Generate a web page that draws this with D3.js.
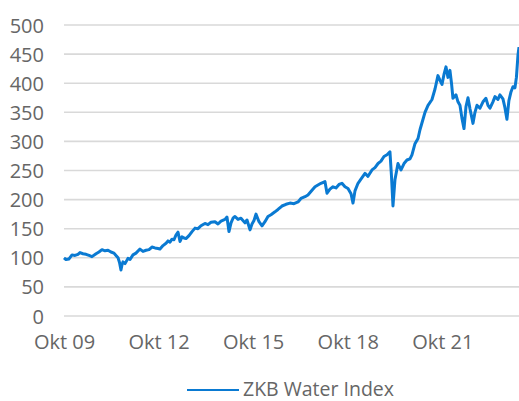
<!DOCTYPE html>
<html>
<head>
<meta charset="utf-8">
<script src="https://cdn.jsdelivr.net/npm/d3@7"></script>
<style>
  body { margin: 0; background: #fff; }
  svg text { font-family: 'Open Sans', sans-serif; fill: #666; }
</style>
</head>
<body>
<svg width="519" height="401"></svg>
<script>
// ZKB Water Index
const dates = [
  '2009-10-01', '2009-10-24', '2009-11-28', '2010-01-02', '2010-02-05', '2010-03-12', '2010-04-04', '2010-05-09',
  '2010-06-13', '2010-07-18', '2010-08-21', '2010-10-07', '2010-11-10', '2010-12-15', '2011-01-19', '2011-02-23',
  '2011-03-29', '2011-05-03', '2011-05-26', '2011-06-19', '2011-07-06', '2011-07-23', '2011-08-04', '2011-08-15',
  '2011-09-08', '2011-10-12', '2011-11-05', '2011-12-09', '2012-01-13', '2012-02-28', '2012-04-03', '2012-05-08',
  '2012-06-12', '2012-07-16', '2012-08-20', '2012-09-24', '2012-10-17', '2012-11-21', '2012-12-26', '2013-01-18',
  '2013-02-10', '2013-03-05', '2013-03-28', '2013-04-20', '2013-05-14', '2013-06-06', '2013-06-29', '2013-07-22',
  '2013-08-14', '2013-09-18', '2013-10-23', '2013-11-27', '2013-12-31', '2014-02-04', '2014-03-22', '2014-04-26',
  '2014-05-31', '2014-07-16', '2014-08-20', '2014-09-24', '2014-11-09', '2014-12-02', '2014-12-25', '2015-01-18',
  '2015-02-10', '2015-03-05', '2015-04-09', '2015-05-13', '2015-06-29', '2015-07-22', '2015-08-26', '2015-09-18',
  '2015-10-11', '2015-11-03', '2015-12-08', '2016-01-12', '2016-02-15', '2016-03-21', '2016-04-25', '2016-06-10',
  '2016-07-15', '2016-08-30', '2016-10-16', '2016-12-01', '2017-01-16', '2017-03-04', '2017-04-07', '2017-05-24',
  '2017-06-27', '2017-08-13', '2017-09-17', '2017-10-21', '2017-11-25', '2018-01-10', '2018-02-03', '2018-03-09',
  '2018-04-13', '2018-05-18', '2018-06-22', '2018-07-26', '2018-08-30', '2018-10-04', '2018-11-08', '2018-12-01',
  '2018-12-24', '2019-01-28', '2019-03-03', '2019-04-19', '2019-05-24', '2019-07-09', '2019-08-13', '2019-09-17',
  '2019-10-21', '2019-11-25', '2019-12-30', '2020-02-02', '2020-02-20', '2020-03-08', '2020-03-31', '2020-05-05',
  '2020-06-09', '2020-07-14', '2020-08-17', '2020-09-21', '2020-10-14', '2020-11-18', '2020-12-23', '2021-01-15',
  '2021-02-19', '2021-03-14', '2021-04-18', '2021-06-03', '2021-07-08', '2021-08-11', '2021-09-04', '2021-09-27',
  '2021-10-20', '2021-11-12', '2021-12-05', '2021-12-28', '2022-01-15', '2022-02-01', '2022-03-08', '2022-03-31',
  '2022-04-23', '2022-05-16', '2022-06-09', '2022-07-02', '2022-07-25', '2022-08-17', '2022-09-21', '2022-10-14',
  '2022-11-06', '2022-12-11', '2023-01-15', '2023-02-18', '2023-03-14', '2023-04-06', '2023-05-10', '2023-06-03',
  '2023-07-07', '2023-07-30', '2023-09-03', '2023-09-26', '2023-10-19', '2023-11-11', '2023-12-05', '2023-12-28',
  '2024-01-20', '2024-02-06', '2024-02-24', '2024-03-07'
]
const values = [
  100, 97, 98, 105, 104, 106, 109, 107,
  106, 104, 102, 107, 110, 114, 112, 113,
  110, 108, 104, 100, 92, 79, 88, 93,
  90, 99, 97, 105, 108, 115, 111, 113,
  114, 118.5, 117, 116, 115, 121, 125, 129,
  127, 132, 131, 139, 144, 128, 136, 134,
  133, 138, 145, 151, 150, 155, 159, 157,
  161, 162, 158, 163, 166, 170, 145, 160,
  168, 171, 166, 168, 160, 165, 148, 158,
  164, 175, 162, 155, 162, 171, 174, 179,
  183, 189, 192, 194, 193, 196, 202, 205,
  208, 216, 222, 225, 228, 231, 211, 218,
  222, 220, 226, 228, 222, 219, 210, 194,
  215, 228, 235, 245, 240, 251, 255, 262,
  266, 274, 277, 282, 240, 189, 234, 262,
  251, 262, 268, 270, 277, 296, 305, 320,
  338, 350, 362, 372, 390, 413, 405, 398,
  415, 428, 410, 422, 400, 374, 380, 368,
  362, 340, 322, 360, 375, 356, 331, 350,
  362, 357, 368, 374, 362, 357, 368, 377,
  372, 380, 373, 358, 338, 370, 385, 394,
  392, 410, 448, 462
]
const yTicks = [0, 50, 100, 150, 200, 250, 300, 350, 400, 450, 500]
const xTicks = ['2009-10-01', '2012-10-01', '2015-10-01', '2018-10-01', '2021-10-01']
const xTickLabels = ['Okt 09', 'Okt 12', 'Okt 15', 'Okt 18', 'Okt 21']
const seriesName = 'ZKB Water Index'

const parse = d3.timeParse('%Y-%m-%d')
const data = dates.map((d, i) => ({ date: parse(d), value: values[i] }))

const svg = d3.select('svg')
const color = '#0a7ad2'

const x = d3.scaleTime()
  .domain(d3.extent(data, d => d.date))
  .range([64, 519])

const y = d3.scaleLinear()
  .domain([0, 500])
  .range([316, 25])

// gridlines
svg.append('g')
  .selectAll('line')
  .data(yTicks)
  .enter()
  .append('line')
  .attr('x1', 64)
  .attr('x2', 519)
  .attr('y1', d => y(d))
  .attr('y2', d => y(d))
  .attr('stroke', '#d9d9d9')
  .attr('stroke-width', 1.6)

// y labels
const yAxis = svg.append('g')
  .attr('transform', 'translate(44,0)')
  .call(d3.axisLeft(y).tickValues(yTicks).tickSize(0).tickPadding(0))
yAxis.select('.domain').remove()
yAxis.selectAll('text')
  .attr('font-size', 20)
  .attr('font-family', null)
  .attr('dy', '0.35em')

// x labels
const xAxis = svg.append('g')
  .attr('transform', 'translate(0,333)')
  .call(d3.axisBottom(x)
    .tickValues(xTicks.map(parse))
    .tickFormat((d, i) => xTickLabels[i])
    .tickSize(0)
    .tickPadding(0))
xAxis.select('.domain').remove()
xAxis.selectAll('text')
  .attr('font-size', 20)
  .attr('font-family', null)
  .attr('dy', '0.8em')

// series line
const line = d3.line()
  .x(d => x(d.date))
  .y(d => y(d.value))

svg.append('path')
  .datum(data)
  .attr('fill', 'none')
  .attr('stroke', color)
  .attr('stroke-width', 3)
  .attr('stroke-linejoin', 'round')
  .attr('d', line)

// legend
const legend = svg.append('g').attr('transform', 'translate(187,390)')
legend.append('line')
  .attr('x1', 0)
  .attr('x2', 52)
  .attr('stroke', color)
  .attr('stroke-width', 2)
legend.append('text')
  .attr('x', 56)
  .attr('y', 5.5)
  .attr('font-size', 19.5)
  .text(seriesName)
</script>
</body>
</html>
